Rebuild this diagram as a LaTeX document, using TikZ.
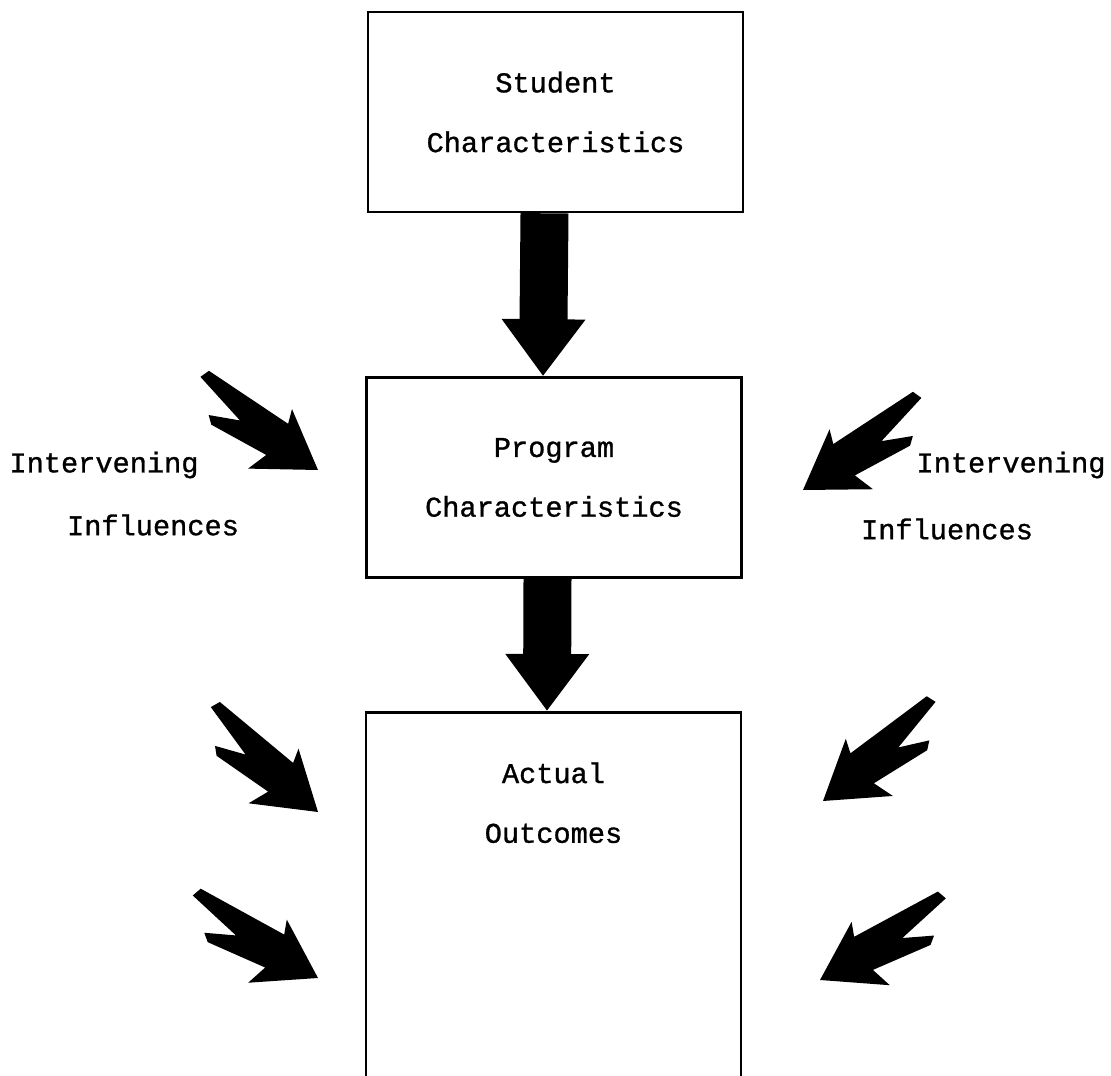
\documentclass[tikz,border=0pt]{standalone}
\usepackage{fontspec}
\setmonofont{Liberation Mono}[FakeBold=1]
\usetikzlibrary{arrows.meta}

\tikzset{
  box/.style={draw, line width=1.5pt, minimum width=7.5cm, minimum height=4cm, align=center},
  lbl/.style={align=center},
  bigarrow/.style={line width=0.96cm, -{Triangle[length=1.14cm,width=1.6cm]}},
  influence/.pic={
    \fill (0,0) -- (-56,-42) -- (-50,-20) -- (-112,-30) -- (-120,-24)
      -- (-92,-9) -- (-150,1) -- (-147,11) -- (-52,18) -- (-58,32) -- cycle;
  }
}

\begin{document}
\begin{tikzpicture}[x=0.02cm,y=0.02cm,
    every node/.style={font=\ttfamily\fontsize{16.3}{34}\selectfont}]
  \clip (0,0) rectangle (1111,1075);

  % the three boxes
  \node[box] (student) at (555.5,963) {Student\\Characteristics};
  \node[box] (program) at (554,597.5) {Program\\Characteristics};
  \node[box, anchor=north, inner ysep=1.0cm, text depth=6cm] (actual) at (553.5,364) {Actual\\Outcomes};

  \draw[bigarrow] ([xshift=-0.22cm]student.south) -- ([xshift=-0.22cm]program.north);
  \draw[bigarrow] ([xshift=-0.13cm]program.south) -- ([xshift=-0.13cm]actual.north);

  % intervening influences
  \node[lbl] (intl) at (104,610) {Intervening};
  \node[lbl] (infl) at (153,550) {Influences};
  \node[lbl] (intr) at (1011,610) {Intervening};
  \node[lbl] (infr) at (947,546) {Influences};

  \coordinate (inl1) at (318,605);
  \coordinate (inl2) at (318,263);
  \coordinate (inl3) at (318,97);
  \coordinate (inr1) at (803,585);
  \coordinate (inr2) at (823,274);
  \coordinate (inr3) at (820,95);

  \pic[rotate=-38] at (inl1) {influence};
  \pic[rotate=-44] at (inl2) {influence};
  \pic[rotate=-33] at (inl3) {influence};
  \pic[rotate=217.5, yscale=-1] at (inr1) {influence};
  \pic[rotate=221, yscale=-1] at (inr2) {influence};
  \pic[rotate=212.6, yscale=-1] at (inr3) {influence};
\end{tikzpicture}
\end{document}
